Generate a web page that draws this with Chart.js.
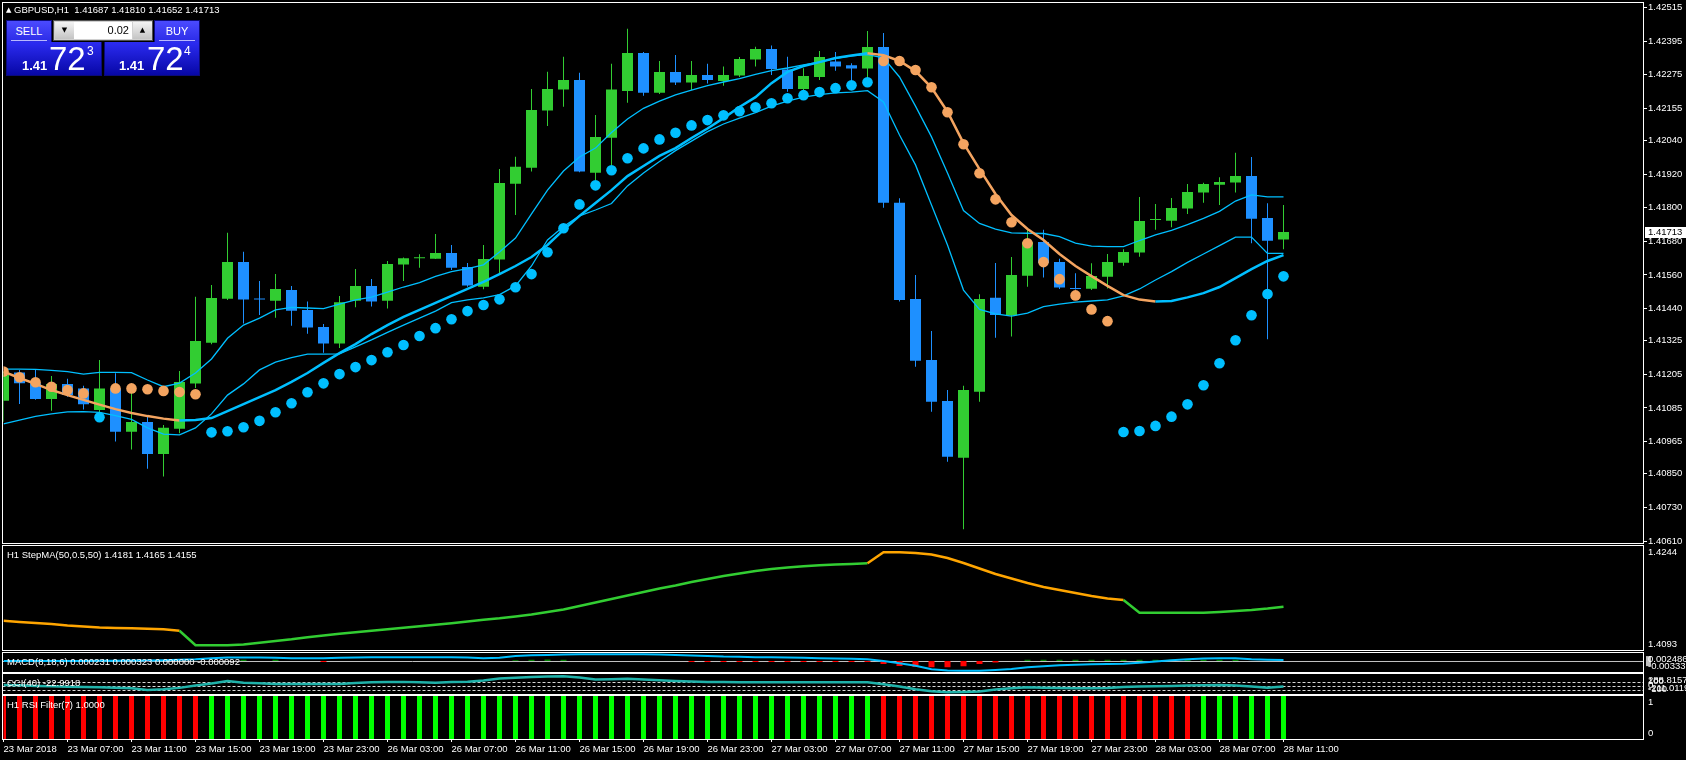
<!DOCTYPE html>
<html>
<head>
<meta charset="utf-8">
<title>GBPUSD,H1</title>
<script src="https://cdn.jsdelivr.net/npm/chart.js"></script>
<style>
  html, body { margin: 0; padding: 0; background: #000; width: 1686px; height: 760px; overflow: hidden; }
  canvas { position: absolute; left: 0; top: 0; }
  #title { position: absolute; left: 6px; top: 4px; color: #fff; font: 9.5px 'Liberation Sans', Arial, sans-serif; white-space: pre; line-height: 12px; }
  #title .tri { font: 7px 'DejaVu Sans', sans-serif; vertical-align: 1px; }
  .box { position: absolute; box-sizing: border-box; font-family: 'Liberation Sans', Arial, sans-serif; }
  .hdr { top: 20px; height: 22px; color: #fff; font-size: 11px; text-align: center; line-height: 21px;
         background: linear-gradient(#4b4bff, #2b2be6); border: 1px solid #0b0b7a; border-bottom: none; }
  .hdr i { position: absolute; left: 4px; right: 4px; bottom: 1px; height: 1px; background: #b8b8ff; }
  .quote { top: 42px; width: 96px; height: 34px; color: #fff;
           background: linear-gradient(#2c2cf2, #0707a6); border: 1px solid #0b0b7a; border-top: none; }
  .quote span { position: absolute; white-space: nowrap; }
  .q1 { top: 17px; font-size: 13px; font-weight: bold; line-height: 13px; }
  .q2 { top: 0; font-size: 33px; line-height: 33px; }
  .q3 { top: 3px; font-size: 12px; line-height: 12px; }
  #lot { left: 53px; top: 20px; width: 100px; height: 21px; background: #d0d0d0; border: 1px solid #505050; }
  .spin { position: absolute; top: 1px; width: 19px; height: 17px; color: #000; font-size: 7px; line-height: 17px; text-align: center;
          background: linear-gradient(#f4f4f4, #c4c4c4); font-family: 'DejaVu Sans', sans-serif; }
  #lotField { position: absolute; left: 20px; top: 1px; width: 58px; height: 17px; background: #fff; color: #000;
              font-size: 11px; line-height: 17px; text-align: right; padding-right: 3px; box-sizing: border-box; }
</style>
</head>
<body>
<canvas id="mainChart" width="1686" height="760"></canvas>
<canvas id="stepChart" width="1686" height="760"></canvas>
<canvas id="macdChart" width="1686" height="760"></canvas>
<canvas id="cciChart" width="1686" height="760"></canvas>
<canvas id="rsiChart" width="1686" height="760"></canvas>

<div id="title"><span class="tri">▲</span> GBPUSD,H1  1.41687 1.41810 1.41652 1.41713</div>

<div class="box hdr" style="left:6px;width:46px">SELL<i></i></div>
<div class="box" id="lot">
  <div class="spin" style="left:1px">▼</div>
  <div id="lotField">0.02</div>
  <div class="spin" style="left:79px">▲</div>
</div>
<div class="box hdr" style="left:154px;width:46px">BUY<i></i></div>
<div class="box quote" style="left:6px"><span class="q1" style="left:15px">1.41</span><span class="q2" style="left:42px">72</span><span class="q3" style="left:80px">3</span></div>
<div class="box quote" style="left:104px"><span class="q1" style="left:14px">1.41</span><span class="q2" style="left:42px">72</span><span class="q3" style="left:79px">4</span></div>

<script>
// ====== Data (GBPUSD H1, 23 Mar 03:00 .. 28 Mar 11:00) ======

const open = [
  1.41111, 1.41212, 1.41173, 1.41117, 1.41171, 1.41155, 1.41078, 1.41155, 1.41000, 1.41035,
  1.40921, 1.41011, 1.41172, 1.41318, 1.41475, 1.41606, 1.41473, 1.41468, 1.41506, 1.41435,
  1.41374, 1.41315, 1.41468, 1.41521, 1.41468, 1.41597, 1.41620, 1.41618, 1.41638, 1.41588,
  1.41518, 1.41615, 1.41886, 1.41943, 1.42147, 1.42222, 1.42256, 1.41925, 1.42050, 1.42217,
  1.42353, 1.42211, 1.42285, 1.42247, 1.42274, 1.42253, 1.42272, 1.42329, 1.42367, 1.42294,
  1.42224, 1.42267, 1.42322, 1.42309, 1.42297, 1.42374, 1.41818, 1.41474, 1.41256, 1.41110,
  1.40907, 1.41143, 1.41479, 1.41415, 1.41557, 1.41678, 1.41606, 1.41512, 1.41511, 1.41554,
  1.41604, 1.41640, 1.41756, 1.41754, 1.41797, 1.41854, 1.41882, 1.41890, 1.41913, 1.41763,
  1.41687
];
const high = [
  1.41215, 1.41221, 1.41221, 1.41199, 1.41189, 1.41164, 1.41256, 1.41209, 1.41149, 1.41054,
  1.41024, 1.41217, 1.41482, 1.41524, 1.41711, 1.41643, 1.41538, 1.41563, 1.41521, 1.41465,
  1.41385, 1.41485, 1.41581, 1.41546, 1.41610, 1.41622, 1.41634, 1.41706, 1.41667, 1.41603,
  1.41667, 1.41938, 1.41982, 1.42224, 1.42286, 1.42339, 1.42282, 1.42131, 1.42314, 1.42439,
  1.42356, 1.42324, 1.42345, 1.42324, 1.42314, 1.42304, 1.42338, 1.42375, 1.42379, 1.42339,
  1.42298, 1.42360, 1.42356, 1.42316, 1.42431, 1.42424, 1.41834, 1.41560, 1.41360, 1.41149,
  1.41164, 1.41491, 1.41603, 1.41624, 1.41728, 1.41721, 1.41618, 1.41566, 1.41602, 1.41635,
  1.41652, 1.41838, 1.41813, 1.41835, 1.41885, 1.41889, 1.41909, 1.41996, 1.41981, 1.41816,
  1.41810
];
const low = [
  1.41036, 1.41099, 1.41114, 1.41075, 1.41125, 1.41080, 1.41067, 1.40965, 1.40937, 1.40868,
  1.40840, 1.40995, 1.41156, 1.41313, 1.41471, 1.41387, 1.41417, 1.41407, 1.41379, 1.41350,
  1.41282, 1.41299, 1.41445, 1.41447, 1.41440, 1.41538, 1.41586, 1.41617, 1.41578, 1.41518,
  1.41509, 1.41566, 1.41774, 1.41929, 1.42092, 1.42161, 1.41927, 1.41899, 1.41953, 1.42175,
  1.42200, 1.42206, 1.42238, 1.42220, 1.42244, 1.42236, 1.42267, 1.42304, 1.42274, 1.42214,
  1.42213, 1.42256, 1.42289, 1.42238, 1.42262, 1.41800, 1.41465, 1.41232, 1.41072, 1.40893,
  1.40652, 1.41107, 1.41336, 1.41340, 1.41518, 1.41551, 1.41510, 1.41508, 1.41506, 1.41512,
  1.41593, 1.41625, 1.41721, 1.41730, 1.41778, 1.41818, 1.41810, 1.41854, 1.41673, 1.41330,
  1.41652
];
const close = [
  1.41203, 1.41173, 1.41117, 1.41171, 1.41131, 1.41098, 1.41155, 1.41000, 1.41035, 1.40921,
  1.41014, 1.41178, 1.41324, 1.41478, 1.41606, 1.41472, 1.41472, 1.41510, 1.41432, 1.41372,
  1.41315, 1.41463, 1.41521, 1.41465, 1.41599, 1.41620, 1.41621, 1.41638, 1.41586, 1.41522,
  1.41617, 1.41888, 1.41946, 1.42149, 1.42224, 1.42256, 1.41929, 1.42053, 1.42222, 1.42353,
  1.42211, 1.42285, 1.42247, 1.42274, 1.42256, 1.42274, 1.42331, 1.42367, 1.42295, 1.42224,
  1.42270, 1.42338, 1.42304, 1.42297, 1.42374, 1.41818, 1.41471, 1.41254, 1.41107, 1.40911,
  1.41149, 1.41474, 1.41417, 1.41560, 1.41678, 1.41603, 1.41515, 1.41510, 1.41556, 1.41606,
  1.41642, 1.41753, 1.41757, 1.41799, 1.41856, 1.41885, 1.41892, 1.41913, 1.41761, 1.41682,
  1.41713
];

// channel around price: upper / middle (trend-coloured) / lower
const upperBand = [
  1.41224, 1.41224, 1.41223, 1.41219, 1.41215, 1.41206, 1.41212, 1.41212, 1.41211, 1.41185,
  1.41161, 1.41174, 1.41210, 1.41260, 1.41334, 1.41381, 1.41406, 1.41435, 1.41444, 1.41442,
  1.41440, 1.41456, 1.41471, 1.41481, 1.41499, 1.41517, 1.41533, 1.41555, 1.41572, 1.41583,
  1.41596, 1.41642, 1.41692, 1.41778, 1.41863, 1.41931, 1.41981, 1.42013, 1.42069, 1.42117,
  1.42155, 1.42181, 1.42203, 1.42220, 1.42236, 1.42249, 1.42261, 1.42276, 1.42290, 1.42299,
  1.42310, 1.42320, 1.42333, 1.42342, 1.42347, 1.42335, 1.42267, 1.42163, 1.42053, 1.41924,
  1.41790, 1.41744, 1.41724, 1.41710, 1.41709, 1.41708, 1.41697, 1.41674, 1.41663, 1.41661,
  1.41661, 1.41683, 1.41703, 1.41719, 1.41740, 1.41762, 1.41787, 1.41824, 1.41846, 1.41839,
  1.41839
];
const trendMA = [
  1.41215, 1.41192, 1.41171, 1.41149, 1.41131, 1.41114, 1.41097, 1.41081, 1.41067, 1.41056,
  1.41047, 1.41040, 1.41042, 1.41049, 1.41074, 1.41099, 1.41124, 1.41149, 1.41178, 1.41210,
  1.41246, 1.41281, 1.41313, 1.41349, 1.41381, 1.41410, 1.41435, 1.41460, 1.41485, 1.41510,
  1.41535, 1.41563, 1.41592, 1.41624, 1.41667, 1.41721, 1.41771, 1.41817, 1.41863, 1.41913,
  1.41949, 1.41985, 1.42013, 1.42049, 1.42083, 1.42120, 1.42160, 1.42195, 1.42245, 1.42285,
  1.42306, 1.42320, 1.42335, 1.42344, 1.42352, 1.42345, 1.42324, 1.42288, 1.42229, 1.42143,
  1.42031, 1.41938, 1.41849, 1.41774, 1.41724, 1.41685, 1.41635, 1.41592, 1.41556, 1.41521,
  1.41488, 1.41472, 1.41465, 1.41467, 1.41480, 1.41495, 1.41517, 1.41549, 1.41581, 1.41610,
  1.41631
];
const lowerBand = [
  1.41028, 1.41042, 1.41055, 1.41064, 1.41071, 1.41072, 1.41069, 1.41058, 1.41044, 1.41014,
  1.40992, 1.40989, 1.41014, 1.41064, 1.41131, 1.41171, 1.41221, 1.41249, 1.41265, 1.41277,
  1.41277, 1.41278, 1.41303, 1.41328, 1.41355, 1.41381, 1.41406, 1.41431, 1.41461, 1.41471,
  1.41478, 1.41490, 1.41521, 1.41592, 1.41685, 1.41733, 1.41771, 1.41792, 1.41815, 1.41878,
  1.41924, 1.41965, 1.42004, 1.42038, 1.42072, 1.42099, 1.42120, 1.42140, 1.42163, 1.42181,
  1.42195, 1.42204, 1.42210, 1.42213, 1.42218, 1.42178, 1.42060, 1.41953, 1.41810, 1.41667,
  1.41506, 1.41437, 1.41421, 1.41413, 1.41424, 1.41447, 1.41456, 1.41463, 1.41467, 1.41471,
  1.41485, 1.41510, 1.41542, 1.41572, 1.41605, 1.41635, 1.41665, 1.41695, 1.41695, 1.41637,
  1.41637
];

// parabolic SAR dots and their side (1 = buy / below, -1 = sell / above)
const sarValues = [
  1.41215, 1.41195, 1.41177, 1.41161, 1.41149, 1.41137, 1.41052, 1.41155, 1.41155, 1.41152,
  1.41146, 1.41142, 1.41134, 1.40998, 1.41002, 1.41016, 1.41039, 1.41070, 1.41102, 1.41141,
  1.41173, 1.41206, 1.41231, 1.41256, 1.41284, 1.41310, 1.41342, 1.41370, 1.41402, 1.41431,
  1.41453, 1.41473, 1.41516, 1.41563, 1.41641, 1.41727, 1.41812, 1.41880, 1.41934, 1.41977,
  1.42012, 1.42044, 1.42068, 1.42094, 1.42113, 1.42130, 1.42145, 1.42159, 1.42173, 1.42191,
  1.42202, 1.42213, 1.42227, 1.42237, 1.42248, 1.42324, 1.42324, 1.42292, 1.42230, 1.42141,
  1.42027, 1.41923, 1.41830, 1.41748, 1.41673, 1.41606, 1.41545, 1.41487, 1.41437, 1.41395,
  1.40999, 1.41003, 1.41021, 1.41054, 1.41098, 1.41166, 1.41245, 1.41327, 1.41416, 1.41492,
  1.41555
];
const sarSide = [
  -1, -1, -1, -1, -1, -1,  1, -1, -1, -1,
  -1, -1, -1,  1,  1,  1,  1,  1,  1,  1,
   1,  1,  1,  1,  1,  1,  1,  1,  1,  1,
   1,  1,  1,  1,  1,  1,  1,  1,  1,  1,
   1,  1,  1,  1,  1,  1,  1,  1,  1,  1,
   1,  1,  1,  1,  1, -1, -1, -1, -1, -1,
  -1, -1, -1, -1, -1, -1, -1, -1, -1, -1,
   1,  1,  1,  1,  1,  1,  1,  1,  1,  1,
   1
];

// H1 StepMA(50,0.5,50)
const stepMA = [
  1.41342, 1.41323, 1.41308, 1.41292, 1.41270, 1.41255, 1.41240, 1.41232, 1.41227, 1.41221,
  1.41212, 1.41191, 1.40971, 1.40971, 1.40971, 1.40983, 1.41009, 1.41036, 1.41061, 1.41092,
  1.41119, 1.41146, 1.41169, 1.41191, 1.41214, 1.41237, 1.41259, 1.41282, 1.41305, 1.41330,
  1.41356, 1.41378, 1.41406, 1.41436, 1.41474, 1.41511, 1.41564, 1.41617, 1.41670, 1.41723,
  1.41776, 1.41828, 1.41874, 1.41927, 1.41972, 1.42017, 1.42055, 1.42093, 1.42123, 1.42146,
  1.42164, 1.42179, 1.42191, 1.42198, 1.42209, 1.42375, 1.42375, 1.42365, 1.42342, 1.42289,
  1.42214, 1.42130, 1.42047, 1.41979, 1.41912, 1.41851, 1.41806, 1.41761, 1.41715, 1.41677,
  1.41655, 1.41463, 1.41463, 1.41463, 1.41463, 1.41463, 1.41474, 1.41489, 1.41504, 1.41526,
  1.41554
];
const stepTrend = [
  -1, -1, -1, -1, -1, -1, -1, -1, -1, -1,
  -1, -1,  1,  1,  1,  1,  1,  1,  1,  1,
   1,  1,  1,  1,  1,  1,  1,  1,  1,  1,
   1,  1,  1,  1,  1,  1,  1,  1,  1,  1,
   1,  1,  1,  1,  1,  1,  1,  1,  1,  1,
   1,  1,  1,  1,  1, -1, -1, -1, -1, -1,
  -1, -1, -1, -1, -1, -1, -1, -1, -1, -1,
  -1,  1,  1,  1,  1,  1,  1,  1,  1,  1,
   1
];

// MACD(8,18,6)
const macdSignal = [
  0, 0, 0, 0, 0, 0.00003, 0.00009, 0.00009, 0.00015, 0.00015,
  0.00024, 0.00039, 0.00054, 0.00084, 0.00109, 0.00109, 0.00109, 0.00100, 0.00091, 0.00091,
  0.00091, 0.00100, 0.00109, 0.00121, 0.00121, 0.00121, 0.00121, 0.00121, 0.00121, 0.00109,
  0.00091, 0.00100, 0.00160, 0.00181, 0.00190, 0.00199, 0.00211, 0.00211, 0.00211, 0.00211,
  0.00211, 0.00205, 0.00190, 0.00175, 0.00160, 0.00139, 0.00130, 0.00121, 0.00121, 0.00109,
  0.00100, 0.00091, 0.00078, 0.00069, 0.00060, 0.00000, -0.00066, -0.00142, -0.00247, -0.00284,
  -0.00293, -0.00293, -0.00272, -0.00241, -0.00187, -0.00157, -0.00127, -0.00112, -0.00097, -0.00091,
  -0.00081, -0.00051, -0.00012, 0.00024, 0.00054, 0.00078, 0.00091, 0.00091, 0.00060, 0.00045,
  0.00032
];
const macdHist = [
  0, 0, 0, 0, 0, 0, 0, 0, 0, -0.0002,
  0, 0, 0, 0, 0, 0.0004, 0, 0.0004, 0, 0,
  -0.0003, 0, 0, 0, 0, 0, 0, 0, 0, 0,
  0, 0, 0.0003, 0.0004, 0.0005, 0.0004, 0, 0, 0, 0,
  0, 0, 0, -0.0003, -0.0003, -0.0003, -0.0003, -0.0003, -0.0003, -0.0003,
  -0.0003, -0.0003, -0.0003, -0.0003, -0.0003, -0.0009, -0.0015, -0.0018, -0.0019, -0.0019,
  -0.0016, -0.0009, -0.0004, 0, 0.0004, 0.0004, 0.0004, 0.0004, 0.0004, 0.0004,
  0.0004, 0.0004, 0.0004, 0.0004, 0.0004, 0.0004, 0.0004, 0.0004, 0, 0,
  0
];

// CCI(40)
const cciValues = [
  12, 5, -8, -18, -30, -38, -45, -52, -68, -113,
  -95, -58, 0, 52, 112, 68, 55, 42, 38, 38,
  38, 42, 62, 80, 90, 92, 80, 70, 88, 95,
  125, 175, 198, 212, 228, 232, 200, 150, 158, 172,
  150, 130, 112, 100, 92, 88, 82, 80, 80, 80,
  80, 80, 80, 80, 80, 30, -25, -92, -145, -170,
  -162, -150, -100, -68, -45, -52, -62, -70, -70, -62,
  -38, -25, -18, -8, 0, 10, 12, 0, -25, -55,
  -22.9918
];
const cciLevels = [100, 0, -100];

// H1 RSI Filter(7)
const rsiFilter = [
  1, 1, 1, 1, 1, 1, 1, 1, 1, 1,  1, 1, 1, 1, 1, 1, 1, 1, 1, 1,
  1, 1, 1, 1, 1, 1, 1, 1, 1, 1,  1, 1, 1, 1, 1, 1, 1, 1, 1, 1,
  1, 1, 1, 1, 1, 1, 1, 1, 1, 1,  1, 1, 1, 1, 1, 1, 1, 1, 1, 1,
  1, 1, 1, 1, 1, 1, 1, 1, 1, 1,  1, 1, 1, 1, 1, 1, 1, 1, 1, 1,
  1
];
const rsiTrend = [
  -1, -1, -1, -1, -1, -1, -1, -1, -1, -1,
  -1, -1, -1,  1,  1,  1,  1,  1,  1,  1,
   1,  1,  1,  1,  1,  1,  1,  1,  1,  1,
   1,  1,  1,  1,  1,  1,  1,  1,  1,  1,
   1,  1,  1,  1,  1,  1,  1,  1,  1,  1,
   1,  1,  1,  1,  1, -1, -1, -1, -1, -1,
  -1, -1, -1, -1, -1, -1, -1, -1, -1, -1,
  -1, -1, -1, -1, -1,  1,  1,  1,  1,  1,
   1
];

// axis ticks
const priceTicks = [
  1.42515, 1.42395, 1.42275, 1.42155, 1.42040, 1.41920, 1.41800, 1.41680, 1.41560,
  1.41440, 1.41325, 1.41205, 1.41085, 1.40965, 1.40850, 1.40730, 1.40610
];
const timeTickBars = [0, 4, 8, 12, 16, 20, 24, 28, 32, 36, 40, 44, 48, 52, 56, 60, 64, 68, 72, 76, 80];
const timeLabels = [
  "23 Mar 2018", "23 Mar 07:00", "23 Mar 11:00", "23 Mar 15:00", "23 Mar 19:00", "23 Mar 23:00",
  "26 Mar 03:00", "26 Mar 07:00", "26 Mar 11:00", "26 Mar 15:00", "26 Mar 19:00", "26 Mar 23:00",
  "27 Mar 03:00", "27 Mar 07:00", "27 Mar 11:00", "27 Mar 15:00", "27 Mar 19:00", "27 Mar 23:00",
  "28 Mar 03:00", "28 Mar 07:00", "28 Mar 11:00"
];

// ====== Layout / style ======
const W = 1686, H = 760;
const PLOT_LEFT = 3.5, PLOT_RIGHT = 1643, AXIS_W = W - PLOT_RIGHT;
const VISIBLE_BARS = (PLOT_RIGHT - PLOT_LEFT) / 16;   // 16 px per H1 bar
const panels = {
  main: { top: 3, bottom: 543 },
  step: { top: 546, bottom: 650 },
  macd: { top: 653, bottom: 672 },
  cci:  { top: 674, bottom: 694 },
  rsi:  { top: 696, bottom: 739 }
};
const BULL = "#32cd32", BEAR = "#1e90ff", CYAN = "#00bfff", SAND = "#f4a460";
const FONT = { family: "'Liberation Sans', Arial, sans-serif", size: 9.5 };
const FONT_CSS = "9.5px 'Liberation Sans', Arial, sans-serif";

const xy = arr => arr.map((v, i) => ({ x: i, y: v }));
const candleColor = i => (close[i] >= open[i] ? BULL : BEAR);

// frame, levels, panel captions and right-side labels like the terminal draws them
const mt4Panel = {
  id: "mt4Panel",
  beforeDatasetsDraw(chart, args, o) {
    const { ctx, chartArea: a } = chart;
    const ys = chart.scales.y;
    (o.levels || []).forEach(v => {
      const py = Math.round(ys.getPixelForValue(v)) + 0.5;
      ctx.save();
      ctx.strokeStyle = o.levelColor || "#c0c0c0";
      ctx.lineWidth = 1;
      ctx.setLineDash(o.levelDash || []);
      ctx.beginPath();
      ctx.moveTo(a.left - 1, py);
      ctx.lineTo(a.right, py);
      ctx.stroke();
      ctx.restore();
    });
  },
  afterDraw(chart, args, o) {
    const { ctx, chartArea: a } = chart;
    const ys = chart.scales.y;
    ctx.save();
    ctx.strokeStyle = "#ffffff";
    ctx.lineWidth = 1;
    const x0 = Math.floor(a.left) - 0.5, x1 = Math.floor(a.right) + 0.5;
    const y0 = Math.floor(a.top) - 0.5, y1 = Math.floor(a.bottom) + 0.5;
    ctx.strokeRect(x0, y0, x1 - x0, y1 - y0);

    ctx.font = FONT_CSS;
    ctx.fillStyle = "#ffffff";
    ctx.textAlign = "left";
    if (o.zeroTag) {
      const pz = ys.getPixelForValue(0);
      ctx.fillStyle = "#c0c0c0";
      ctx.fillRect(a.right + 3, pz - 5, 5, 10);
      ctx.fillStyle = "#ffffff";
    }
    (o.edgeLabels || []).forEach(l => {
      if (l.at === "top") { ctx.textBaseline = "top"; ctx.fillText(l.text, a.right + 5, a.top + 2); }
      else if (l.at === "bottom") { ctx.textBaseline = "bottom"; ctx.fillText(l.text, a.right + 5, a.bottom - 1); }
      else { ctx.textBaseline = "middle"; ctx.fillText(l.text, a.right + 5, ys.getPixelForValue(l.at)); }
    });
    if (o.title) {
      ctx.textBaseline = "middle";
      ctx.fillText(o.title, 7, a.top + 9.5);
    }
    if (o.priceBox != null) {
      const py = Math.round(ys.getPixelForValue(o.priceBox));
      ctx.fillStyle = "#ffffff";
      ctx.fillRect(a.right + 2, py - 5, W - a.right - 2, 11);
      ctx.fillStyle = "#000000";
      ctx.textBaseline = "middle";
      ctx.fillText(o.priceBox.toFixed(5), a.right + 5, py + 0.5);
    }
    ctx.restore();
  }
};
Chart.register(mt4Panel);

function timeAxis(show) {
  return {
    type: "linear", min: 0, max: VISIBLE_BARS, offset: false, display: show,
    afterBuildTicks: s => { s.ticks = timeTickBars.map(v => ({ value: v })); },
    afterFit: s => { if (show) s.height = 21; s.paddingLeft = 0; s.paddingRight = 0; },
    grid: { display: show, offset: false, drawOnChartArea: false, drawTicks: true, tickLength: 3, color: "#ffffff" },
    border: { display: false },
    ticks: {
      display: show, color: "#ffffff", font: FONT, padding: 2, align: "start",
      autoSkip: false, maxRotation: 0, minRotation: 0,
      callback: (v, i) => timeLabels[i]
    }
  };
}

function sideAxis(extra) {
  return Object.assign({
    position: "right",
    afterFit: s => { s.width = AXIS_W; s.paddingTop = 0; s.paddingBottom = 0; },
    grid: { display: false },
    border: { display: false },
    ticks: { display: false }
  }, extra);
}

function panelOptions(panel, yAxis, withTime, deco) {
  return {
    responsive: false,
    animation: false,
    events: [],
    devicePixelRatio: 1,
    layout: {
      autoPadding: false,
      padding: { left: PLOT_LEFT, right: 0, top: panel.top, bottom: withTime ? 0 : H - panel.bottom }
    },
    plugins: { legend: { display: false }, tooltip: { enabled: false }, mt4Panel: deco },
    scales: { x: timeAxis(withTime), y: sideAxis(yAxis) }
  };
}

// ====== Main price chart ======
new Chart(document.getElementById("mainChart"), {
  type: "bar",
  data: {
    datasets: [
      {
        type: "line", label: "SAR", data: xy(sarValues), showLine: false,
        pointRadius: 5.3, pointHoverRadius: 5.3, pointBorderWidth: 0,
        pointBackgroundColor: c => (sarSide[c.dataIndex] > 0 ? CYAN : SAND),
        order: 1
      },
      {
        type: "line", label: "MA", data: xy(trendMA), borderColor: CYAN, borderWidth: 2.5, pointRadius: 0,
        segment: { borderColor: c => (c.p1.parsed.y < c.p0.parsed.y ? SAND : CYAN) },
        order: 2
      },
      { type: "line", label: "Upper", data: xy(upperBand), borderColor: CYAN, borderWidth: 1.3, pointRadius: 0, order: 3 },
      { type: "line", label: "Lower", data: xy(lowerBand), borderColor: CYAN, borderWidth: 1.3, pointRadius: 0, order: 3 },
      {
        label: "Body", data: close.map((c, i) => ({ x: i, y: [open[i], c] })),
        backgroundColor: c => candleColor(c.dataIndex), barThickness: 11, minBarLength: 1,
        inflateAmount: 0, grouped: false, order: 5
      },
      {
        label: "Wick", data: close.map((c, i) => ({ x: i, y: [low[i], high[i]] })),
        backgroundColor: c => candleColor(c.dataIndex), barThickness: 1,
        inflateAmount: 0, grouped: false, order: 6
      }
    ]
  },
  options: panelOptions(panels.main, {
    min: 1.406029, max: 1.425311,
    afterBuildTicks: s => { s.ticks = priceTicks.map(v => ({ value: v })); },
    grid: { display: true, drawOnChartArea: false, drawTicks: true, tickLength: 4, color: "#ffffff" },
    ticks: { display: true, color: "#ffffff", font: FONT, padding: 1, autoSkip: false, callback: v => v.toFixed(5) }
  }, false, { priceBox: close[close.length - 1] })
});

// ====== StepMA ======
new Chart(document.getElementById("stepChart"), {
  type: "line",
  data: {
    datasets: [{
      data: xy(stepMA), borderColor: BULL, borderWidth: 2.5, pointRadius: 0,
      segment: { borderColor: c => (stepTrend[c.p1DataIndex] < 0 ? "#ffa500" : BULL) }
    }]
  },
  options: panelOptions(panels.step, { min: 1.40900, max: 1.42470 }, false, {
    title: "H1 StepMA(50,0.5,50) 1.4181 1.4165 1.4155",
    edgeLabels: [{ text: "1.4244", at: "top" }, { text: "1.4093", at: "bottom" }]
  })
});

// ====== MACD ======
new Chart(document.getElementById("macdChart"), {
  type: "bar",
  data: {
    datasets: [
      {
        type: "line", data: xy(macdSignal), borderColor: CYAN, borderWidth: 2, pointRadius: 0, order: 1
      },
      {
        data: xy(macdHist), barThickness: 6, inflateAmount: 0, grouped: false,
        backgroundColor: c => (macdHist[c.dataIndex] >= 0 ? "#008000" : "#ff0000"), order: 2
      }
    ]
  },
  options: panelOptions(panels.macd, { min: -0.003337, max: 0.002486 }, false, {
    title: "MACD(8,18,6) 0.000231 0.000323 0.000000 -0.000092",
    levels: [0], levelColor: "#c0c0c0", zeroTag: true,
    edgeLabels: [{ text: "0.002486", at: "top" }, { text: "-0.003337", at: "bottom" }]
  })
});

// ====== CCI ======
new Chart(document.getElementById("cciChart"), {
  type: "line",
  data: {
    datasets: [{ data: xy(cciValues), borderColor: "#20b2aa", borderWidth: 2.5, pointRadius: 0 }]
  },
  options: panelOptions(panels.cci, { min: -211.0119, max: 288.8157 }, false, {
    title: "CCI(40) -22.9918",
    levels: cciLevels, levelColor: "rgba(255,255,255,0.85)", levelDash: [3, 2],
    edgeLabels: [
      { text: "288.8157", at: "top" },
      { text: "100", at: 100 },
      { text: "0", at: 0 },
      { text: "-100", at: -100 },
      { text: "-211.0119", at: "bottom" }
    ]
  })
});

// ====== RSI filter ======
new Chart(document.getElementById("rsiChart"), {
  type: "bar",
  data: {
    datasets: [{
      data: xy(rsiFilter), barThickness: 5, inflateAmount: 0,
      backgroundColor: c => (rsiTrend[c.dataIndex] > 0 ? "#00ff00" : "#ff0000")
    }]
  },
  options: panelOptions(panels.rsi, { min: 0, max: 1 }, true, {
    title: "H1 RSI Filter(7) 1.0000",
    edgeLabels: [{ text: "1", at: "top" }, { text: "0", at: "bottom" }]
  })
});
</script>
</body>
</html>
